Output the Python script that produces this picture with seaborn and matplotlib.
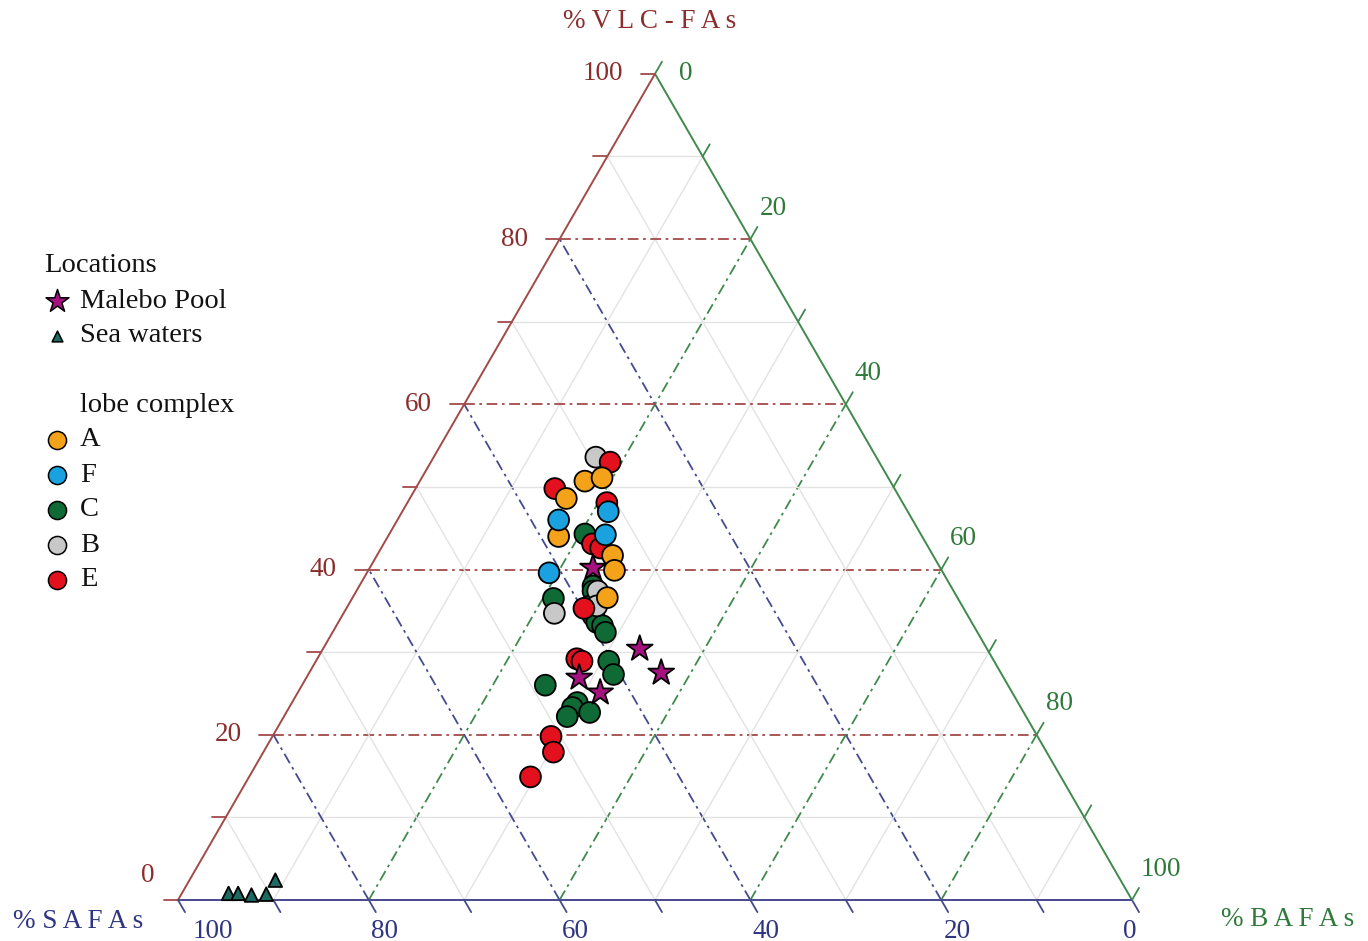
import numpy as np
import pandas as pd
import matplotlib

matplotlib.use("Agg")
import matplotlib.pyplot as plt
import seaborn as sns

# --- data: (% SAFAs, % BAFAs, % VLC-FAs) ---
lobe_a = [(32.0, 17.3, 50.7), (30.0, 18.9, 51.1), (35.0, 16.4, 48.6), (38.1, 17.9, 44.0),
          (33.6, 24.7, 41.7), (34.3, 25.8, 39.9), (36.7, 26.7, 36.6)]
lobe_f = [(31.4, 21.6, 47.0), (37.1, 16.9, 46.0), (33.1, 22.7, 44.2), (41.3, 19.1, 39.6)]
lobe_c = [(35.2, 20.5, 44.3), (37.5, 24.5, 38.0), (37.8, 24.8, 37.4), (42.4, 21.1, 36.5),
          (39.0, 25.4, 35.6), (39.3, 26.3, 34.4), (39.3, 27.1, 33.6), (38.9, 27.9, 33.2),
          (39.0, 28.6, 32.4), (40.4, 30.7, 28.9), (40.7, 32.0, 27.3), (48.5, 25.5, 26.0),
          (46.2, 29.9, 23.9), (47.0, 29.7, 23.3), (48.1, 29.7, 22.2), (45.5, 31.8, 22.7)]
lobe_b = [(29.4, 17.0, 53.6), (37.3, 25.3, 37.4), (38.3, 26.1, 35.6), (43.2, 22.1, 34.7)]
lobe_e = [(28.2, 18.8, 53.0), (35.6, 14.6, 49.8), (31.0, 20.9, 48.1), (35.0, 21.9, 43.1),
          (34.4, 23.0, 42.6), (39.8, 24.9, 35.3), (43.6, 27.2, 29.2), (43.2, 27.9, 28.9),
          (51.0, 29.2, 19.8), (51.7, 30.4, 17.9), (55.6, 29.5, 14.9)]
malebo_pool = [(36.4, 23.4, 40.2), (36.4, 33.2, 30.4), (35.6, 36.9, 27.5),
               (44.5, 28.6, 26.9), (43.2, 31.7, 25.1)]
sea_waters = [(94.3, 4.9, 0.8), (93.3, 5.9, 0.8), (92.0, 7.4, 0.6),
              (90.4, 8.9, 0.7), (88.6, 9.0, 2.4)]

groups = {"C": lobe_c, "B": lobe_b, "E": lobe_e, "A": lobe_a, "F": lobe_f,
          "Malebo Pool": malebo_pool, "Sea waters": sea_waters}
legend_lobes = ["A", "F", "C", "B", "E"]
legend_locations = ["Malebo Pool", "Sea waters"]
grid_ticks = [0, 10, 20, 30, 40, 50, 60, 70, 80, 90, 100]
labelled_ticks = [0, 20, 40, 60, 80, 100]

palette = {"A": "#f4a21a", "F": "#19a2df", "C": "#0f6a35", "B": "#c8c8c8",
           "E": "#e3101e", "Malebo Pool": "#a5117f", "Sea waters": "#1b6b63"}
markers = {"A": "o", "F": "o", "C": "o", "B": "o", "E": "o",
           "Malebo Pool": "*", "Sea waters": "^"}
sizes = {"A": 225, "F": 225, "C": 225, "B": 225, "E": 225,
         "Malebo Pool": 380, "Sea waters": 95}

VLC_C = "#8c2d2d"
VLC_L = "#a24a48"
BAFA_C = "#2f7a3a"
BAFA_L = "#3f8a4c"
SAFA_C = "#2f3580"
SAFA_L = "#454a8e"
SQ3 = np.sqrt(3) / 2
PX = 954.0
DASHDOT = (0, (6, 2.5, 1.5, 2.5))


def tern(safa, bafa, vlc):
    tot = safa + bafa + vlc
    b, v = bafa / tot, vlc / tot
    return b + v / 2, v * SQ3


def px(x, y):
    # pixel position of the reference -> data coordinates
    return (x - 178) / PX, (900 - y) / PX


rows = []
for g, pts in groups.items():
    for s, b, v in pts:
        x, y = tern(s, b, v)
        rows.append((g, x, y))
df = pd.DataFrame(rows, columns=["group", "x", "y"])

sns.set_theme(style="white")
plt.rcParams["font.family"] = ["Liberation Serif", "DejaVu Serif"]

fig = plt.figure(figsize=(13.68, 9.41), dpi=100)
ax = fig.add_axes([0, 0, 1, 1])
ax.set_xlim(-178 / PX, 1190 / PX)
ax.set_ylim(-41 / PX, 900 / PX)
ax.axis("off")

# --- grid ---
for t in grid_ticks[1:-1]:
    f = t / 100
    major = t % 20 == 0
    ls = DASHDOT if major else "-"
    lw = 1.3 if major else 1.0
    # constant VLC
    p1, p2 = tern(1 - f, 0, f), tern(0, 1 - f, f)
    ax.plot([p1[0], p2[0]], [p1[1], p2[1]], color=VLC_L if major else "#e3e3e3",
            ls=ls, lw=lw, zorder=1)
    # constant SAFA
    p1, p2 = tern(f, 1 - f, 0), tern(f, 0, 1 - f)
    ax.plot([p1[0], p2[0]], [p1[1], p2[1]], color=SAFA_L if major else "#e3e3e3",
            ls=ls, lw=lw, zorder=1)
    # constant BAFA
    p1, p2 = tern(1 - f, f, 0), tern(0, f, 1 - f)
    ax.plot([p1[0], p2[0]], [p1[1], p2[1]], color=BAFA_L if major else "#e3e3e3",
            ls=ls, lw=lw, zorder=1)

# --- edges ---
L, R, T = tern(1, 0, 0), tern(0, 1, 0), tern(0, 0, 1)
ax.plot([L[0], T[0]], [L[1], T[1]], color=VLC_L, lw=1.4, zorder=2)
ax.plot([T[0], R[0]], [T[1], R[1]], color=BAFA_L, lw=1.4, zorder=2)
ax.plot([L[0], R[0]], [L[1], R[1]], color=SAFA_L, lw=1.4, zorder=2)

tl = 14 / PX
for t in grid_ticks:
    f = t / 100
    # VLC ticks (left edge, horizontal)
    x, y = tern(1 - f, 0, f)
    ax.plot([x, x - tl], [y, y], color=VLC_L, lw=1.3)
    # BAFA ticks (right edge, up-right)
    x, y = tern(0, f, 1 - f)
    ax.plot([x, x + tl * 0.5], [y, y + tl * SQ3], color=BAFA_L, lw=1.3)
    # SAFA ticks (bottom edge, down-right)
    x, y = tern(f, 1 - f, 0)
    ax.plot([x, x + tl * 0.5], [y, y - tl * SQ3], color=SAFA_L, lw=1.3)

fs_tick = 19.5
for t in labelled_ticks:
    f = t / 100
    x, y = tern(1 - f, 0, f)
    if t == 0:
        ax.text(*px(154, 875), "0", color=VLC_C, fontsize=fs_tick, ha="right", va="center")
    else:
        ax.text(x - 32 / PX, y, str(t), color=VLC_C, fontsize=fs_tick, ha="right", va="center")
    x, y = tern(0, f, 1 - f)
    if t == 0:
        ax.text(x + 24 / PX, y, "0", color=BAFA_C, fontsize=fs_tick, ha="left", va="center")
    else:
        ax.text(x + 9 / PX, y + 31 / PX, str(t), color=BAFA_C, fontsize=fs_tick,
                ha="left", va="center")
    x, y = tern(f, 1 - f, 0)
    dx = {100: 35, 0: -2}.get(t, 16)
    ax.text(x + dx / PX, y - 31 / PX, str(t), color=SAFA_C, fontsize=fs_tick,
            ha="center", va="center")

ax.text(*px(650, 22), "% V L C - F A s", color=VLC_C, fontsize=19.5, ha="center", va="center")
ax.text(*px(78, 922), "% S A F A s", color=SAFA_C, fontsize=19.5, ha="center", va="center")
ax.text(*px(1288, 920), "% B A F A s", color=BAFA_C, fontsize=19.5, ha="center", va="center")

# --- points ---
sns.scatterplot(data=df, x="x", y="y", hue="group", style="group", size="group",
                palette=palette, markers=markers, sizes=sizes, edgecolor="black",
                linewidth=1.3, legend=False, ax=ax, zorder=5)
ax.set_xlabel("")
ax.set_ylabel("")

# --- legend ---
fs_leg = 20.5
leg_sizes = {"A": 170, "F": 170, "C": 170, "B": 170, "E": 170,
             "Malebo Pool": 300, "Sea waters": 60}
ax.text(*px(44, 266), "Locations", fontsize=fs_leg, ha="left", va="center", color="#111111")
ax.text(*px(80, 406), "lobe complex", fontsize=fs_leg, ha="left", va="center", color="#111111")
rows_y = dict(zip(legend_locations + legend_lobes, [301, 336, 440, 475, 510, 545, 580]))
for g, yy in rows_y.items():
    ax.scatter(*px(57, yy), s=leg_sizes[g], marker=markers[g], color=palette[g],
               edgecolor="black", linewidth=1.1, zorder=6)
    ax.text(*px(80, yy), g, fontsize=fs_leg, ha="left", va="center", color="#111111")

fig.savefig("out.png", dpi=100)
